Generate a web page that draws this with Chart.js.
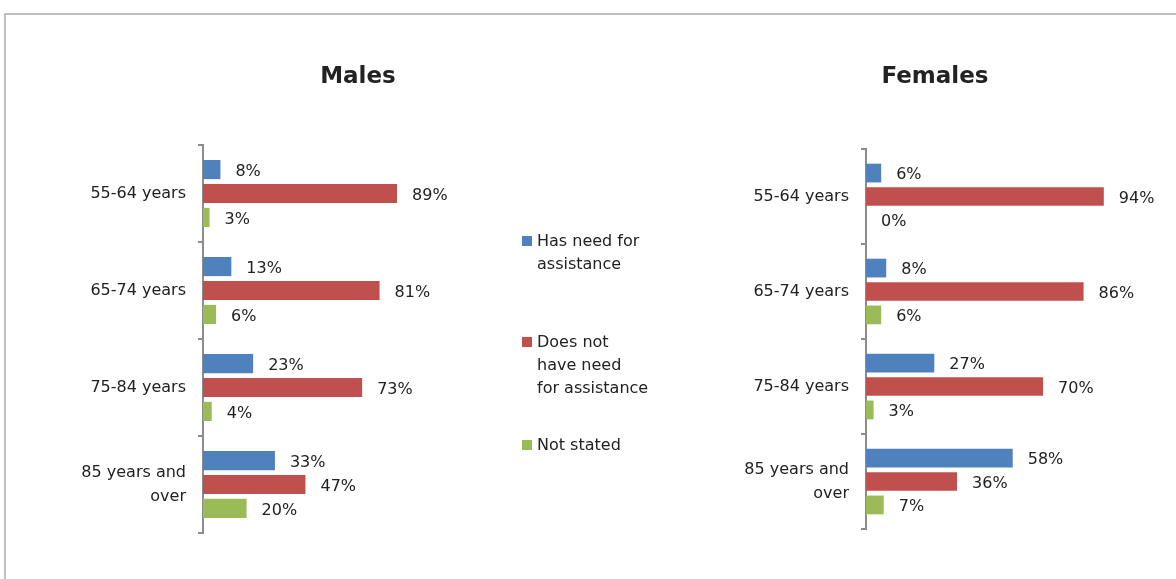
<!DOCTYPE html>
<html>
<head>
<meta charset="utf-8">
<script src="https://cdn.jsdelivr.net/npm/chart.js@4/dist/chart.umd.min.js"></script>
<style>
  body { margin: 0; background: #fff; width: 1176px; height: 579px; overflow: hidden; position: relative; font-family: "DejaVu Sans", sans-serif; color: #222; }
  .frame { position: absolute; left: 4px; top: 13px; width: 1300px; height: 700px; border: 2px solid #bfbfbf; }
  canvas { position: absolute; left: 0; top: 0; }
  .title { position: absolute; top: 62px; font-weight: bold; font-size: 23px; transform: translateX(-50%); white-space: nowrap; }
  .legend-item { position: absolute; left: 522px; font-size: 16px; line-height: 23px; }
  .legend-item span.box { position: absolute; left: 0; top: 7px; width: 10px; height: 10px; }
  .legend-item div { margin-left: 15px; }
</style>
</head>
<body>
<div class="frame"></div>
<canvas id="males" width="1176" height="579"></canvas>
<canvas id="females" width="1176" height="579"></canvas>
<div class="title" style="left:358px">Males</div>
<div class="title" style="left:935px">Females</div>
<div id="legend"></div>
<script>
const ageGroups = ['55-64 years', '65-74 years', '75-84 years', ['85 years and', 'over']];
const seriesNames = ['Has need for assistance', 'Does not have need for assistance', 'Not stated'];
const seriesColors = ['#4f81bd', '#c0504d', '#9bbb59'];

const malesNeed = [8, 13, 23, 33];
const malesNoNeed = [89, 81, 73, 47];
const malesNotStated = [3, 6, 4, 20];

const femalesNeed = [6, 8, 27, 58];
const femalesNoNeed = [94, 86, 70, 36];
const femalesNotStated = [0, 6, 3, 7];

// legend lines as wrapped in the original
const legendLines = [['Has need for', 'assistance'], ['Does not', 'have need', 'for assistance'], ['Not stated']];
const legendTops = [229, 330, 433];

const legendEl = document.getElementById('legend');
legendLines.forEach((lines, i) => {
  const item = document.createElement('div');
  item.className = 'legend-item';
  item.style.top = legendTops[i] + 'px';
  item.innerHTML = '<span class="box" style="background:' + seriesColors[i] + '"></span><div>' + lines.join('<br>') + '</div>';
  legendEl.appendChild(item);
});

const valueLabels = {
  id: 'valueLabels',
  afterDatasetsDraw(chart) {
    const ctx = chart.ctx;
    ctx.save();
    ctx.font = '16px "DejaVu Sans"';
    ctx.fillStyle = '#222';
    ctx.textAlign = 'left';
    ctx.textBaseline = 'middle';
    chart.data.datasets.forEach((ds, i) => {
      chart.getDatasetMeta(i).data.forEach((bar, j) => {
        ctx.fillText(ds.data[j] + '%', bar.x + 15, bar.y + 2);
      });
    });
    ctx.restore();
  }
};

const makeChart = (id, values, pad) => {
  const ctx = document.getElementById(id).getContext('2d');
  return new Chart(ctx, {
    type: 'bar',
    data: {
      labels: ageGroups,
      datasets: values.map((v, i) => ({
        label: seriesNames[i],
        data: v,
        backgroundColor: seriesColors[i],
        categoryPercentage: 0.74,
        barPercentage: 0.8
      }))
    },
    options: {
      indexAxis: 'y',
      responsive: false,
      animation: false,
      layout: { padding: pad },
      plugins: { legend: { display: false }, tooltip: { enabled: false } },
      scales: {
        x: { display: false, min: 0, max: 100 },
        y: {
          afterFit: (scale) => { scale.width = 150; },
          border: { display: true, color: '#8c8c8c', width: 2 },
          grid: { drawOnChartArea: false, drawTicks: true, tickLength: 5, color: '#8c8c8c', lineWidth: 2 },
          ticks: { color: '#222', padding: 12, font: { family: 'DejaVu Sans', size: 16, lineHeight: 1.5 } }
        }
      }
    },
    plugins: [valueLabels]
  });
};

makeChart('males', [malesNeed, malesNoNeed, malesNotStated], { left: 53, right: 755, top: 145, bottom: 46 });
makeChart('females', [femalesNeed, femalesNoNeed, femalesNotStated], { left: 716, right: 57, top: 149, bottom: 50 });
</script>
</body>
</html>
